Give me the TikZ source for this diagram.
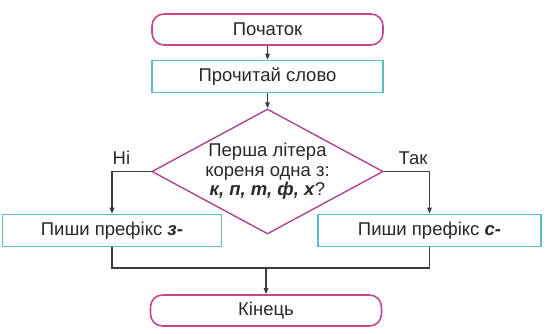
\documentclass[tikz,border=0pt]{standalone}
\usepackage{fontspec}
\setmainfont{Liberation Sans}
\usepackage{tikz}
\usetikzlibrary{positioning,arrows.meta,shapes.geometric}
\definecolor{termline}{RGB}{200,70,140}
\definecolor{condline}{RGB}{175,70,140}
\definecolor{procline}{RGB}{90,190,192}
\definecolor{inktext}{RGB}{40,40,40}
\definecolor{wire}{RGB}{60,60,60}

\begin{document}
\begin{tikzpicture}[
  x=1pt, y=-1pt,
  base/.style={inner sep=0pt, align=center, text=inktext,
               font=\fontsize{18.5}{19.5}\selectfont},
  term/.style={base, draw=termline, line width=1.6pt, fill=white,
               rounded corners=12pt, minimum width=231pt, minimum height=31pt},
  proc/.style={base, draw=procline, line width=1.6pt, fill=white,
               minimum height=32pt},
  cond/.style={base, diamond, aspect=1.9, draw=condline, line width=1.4pt,
               fill=white, minimum width=229pt, minimum height=125pt},
  arr/.style={-{Triangle[length=6pt,width=4.5pt]}, line width=1.1pt, draw=wire},
  lnk/.style={line width=1.1pt, draw=wire},
  lbl/.style={base, text=inktext}
]
\useasboundingbox (0,0) rectangle (549,334);

\node[term] (start) at (267.5,29.5) {Початок};
\node[proc, minimum width=231pt] (read) at (267.5,76.5) {Прочитай слово};
\node[cond] (check) at (267.5,171.5)
  {Перша літера\\кореня одна з:\\\textbf{\textit{к, п, т, ф, х}}?};
\node[proc, minimum width=219pt] (prefz) at (112,230.5) {Пиши префікс \textbf{\textit{з-}}};
\node[proc, minimum width=223pt] (prefs) at (429.5,230.5) {Пиши префікс \textbf{\textit{с-}}};
\node[term] (finish) at (266,310.5) {Кінець};
\coordinate (join) at (266,268);

\draw[arr] (start) -- (read);
\draw[arr] (read) -- (check);
\draw[arr] (check.west) -| node[lbl, pos=0.38, above=6pt]{Ні} (prefz.north);
\draw[arr] (check.east) -| node[lbl, pos=0.32, above=6pt]{Так} (prefs.north);
\draw[lnk] (prefz.south) |- (join) -| (prefs.south);
\draw[arr] (join) -- (finish);

\end{tikzpicture}
\end{document}
